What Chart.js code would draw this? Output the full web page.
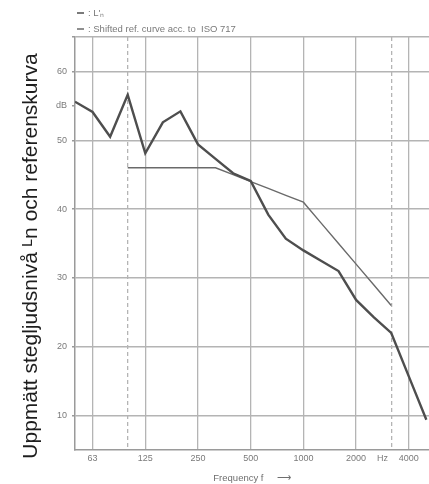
<!DOCTYPE html>
<html>
<head>
<meta charset="utf-8">
<script src="https://cdn.jsdelivr.net/npm/chart.js@4/dist/chart.umd.min.js"></script>
<style>
  html, body { margin: 0; padding: 0; background: #fff; }
  #wrap { width: 429px; height: 484px; position: relative; }
</style>
</head>
<body>
<div id="wrap"><canvas id="stepChart"></canvas></div>
<script>
// third-octave bands, 50 Hz .. 5000 Hz
var bands = [50, 63, 80, 100, 125, 160, 200, 250, 315, 400, 500, 630, 800, 1000, 1250, 1600, 2000, 2500, 3150, 4000, 5000];
// measured L'n
var lnValues = [55.6, 54.1, 50.5, 56.6, 48.1, 52.6, 54.2, 49.4, 47.3, 45.2, 44.1, 39.2, 35.7, 34.0, 32.5, 31.0, 26.8, 24.3, 22.0, 15.7, 9.4];
// shifted ISO 717 reference curve (100 - 3150 Hz)
var refValues = [null, null, null, 46, 46, 46, 46, 46, 46, 45, 44, 43, 42, 41, 38, 35, 32, 29, 26, null, null];
var octaveBands = [63, 125, 250, 500, 1000, 2000, 4000];
var dashedBands = [100, 3150];
var yTicks = [10, 20, 30, 40, 50, 60, 65];
var unitTick = 55;   // "dB" label
var hzTick = 17.5;   // "Hz" label between 2500 and 3150

var gridGray = '#b4b4b4';
var labelGray = '#7a7a7a';
var font = "'Liberation Sans', Arial, sans-serif";

function bandIndex(f) { return bands.indexOf(f); }

var octaveIdx = octaveBands.map(bandIndex);
var dashedIdx = dashedBands.map(bandIndex);

function toPoints(arr) {
    return arr.map(function (v, i) { return {x: i, y: v}; });
}

// legend lines at the top and the big rotated y title
var sideText = {
    id: 'sideText',
    afterDraw: function (chart) {
        var c = chart.ctx;
        c.save();
        c.fillStyle = '#7a7a7a';
        c.font = '9.5px ' + font;
        c.textBaseline = 'middle';
        chart.data.datasets.forEach(function (ds, k) {
            var y = 13 + k * 16;
            c.strokeStyle = ds.borderColor;
            c.lineWidth = 1.5;
            c.beginPath();
            c.moveTo(77, y);
            c.lineTo(84, y);
            c.stroke();
            c.fillText(': ' + ds.label, 88, y);
        });
        c.translate(31, 256);
        c.rotate(-Math.PI / 2);
        c.fillStyle = '#1e1e1e';
        c.font = '21px ' + font;
        c.textAlign = 'center';
        c.fillText('Uppmätt stegljudsnivå \u1D38n och referenskurva', 0, 0);
        c.restore();
    }
};

var ctx = document.getElementById('stepChart').getContext('2d');
var chart = new Chart(ctx, {
    type: 'line',
    data: {
        datasets: [{
            label: "L'\u2099",
            data: toPoints(lnValues),
            borderColor: '#4e4e4e',
            borderWidth: 2.4,
            pointRadius: 0,
            tension: 0
        },
        {
            label: 'Shifted ref. curve acc. to  ISO 717',
            data: toPoints(refValues),
            borderColor: '#6a6a6a',
            borderWidth: 1.4,
            pointRadius: 0,
            tension: 0
        }]
    },
    options: {
        responsive: true,
        maintainAspectRatio: false,
        animation: false,
        layout: {padding: {top: 37, right: 0, bottom: 0, left: 0}},
        plugins: {
            legend: {display: false},
            tooltip: {enabled: false}
        },
        scales: {
            x: {
                type: 'linear',
                min: 0,
                max: 20.15,
                afterBuildTicks: function (scale) {
                    var vals = octaveIdx.concat(dashedIdx, [hzTick]).sort(function (a, b) { return a - b; });
                    scale.ticks = vals.map(function (v) { return {value: v}; });
                },
                afterFit: function (scale) { scale.height = 34; },
                ticks: {
                    autoSkip: false,
                    maxRotation: 0,
                    padding: 3,
                    color: labelGray,
                    font: {family: font, size: 9},
                    callback: function (value) {
                        if (value === hzTick) return 'Hz';
                        if (octaveIdx.indexOf(value) >= 0) return String(bands[value]);
                        return '';
                    }
                },
                grid: {
                    drawTicks: false,
                    lineWidth: 1.3,
                    color: function (c) {
                        if (!c.tick) return gridGray;
                        return (c.tick.value === hzTick) ? 'rgba(0,0,0,0)' : gridGray;
                    }
                },
                border: {
                    color: '#9a9a9a',
                    width: 1.5,
                    dash: function (c) {
                        if (c.tick && dashedIdx.indexOf(c.tick.value) >= 0) return [4, 3];
                        return [];
                    }
                },
                title: {
                    display: true,
                    text: 'Frequency f     \u27F6',
                    color: '#6e6e6e',
                    font: {family: font, size: 9.5},
                    padding: {top: 0, bottom: 0}
                }
            },
            y: {
                min: 5,
                max: 65,
                afterBuildTicks: function (scale) {
                    var vals = yTicks.concat([unitTick]).sort(function (a, b) { return a - b; });
                    scale.ticks = vals.map(function (v) { return {value: v}; });
                },
                afterFit: function (scale) { scale.width = 75; },
                ticks: {
                    padding: 5,
                    color: labelGray,
                    font: {family: font, size: 9},
                    callback: function (value) {
                        if (value === unitTick) return 'dB';
                        if (value === 65) return '';
                        return String(value);
                    }
                },
                grid: {
                    lineWidth: 1.4,
                    tickLength: 3,
                    tickColor: '#9a9a9a',
                    color: function (c) {
                        if (c.tick && c.tick.value === unitTick) return 'rgba(0,0,0,0)';
                        return gridGray;
                    }
                },
                border: {color: '#9a9a9a', width: 1.5}
            }
        }
    },
    plugins: [sideText]
});
</script>
</body>
</html>
